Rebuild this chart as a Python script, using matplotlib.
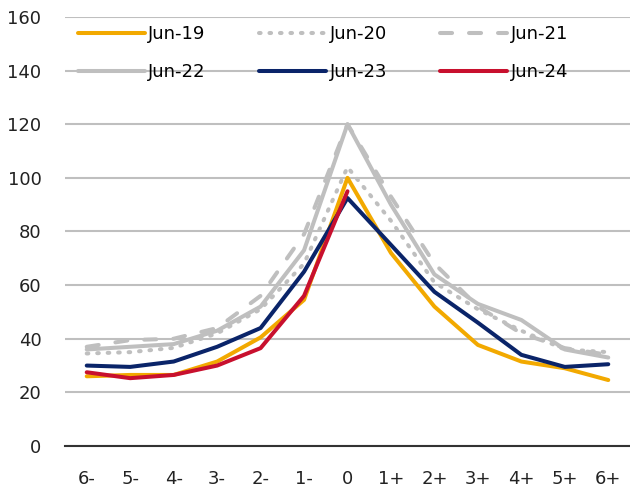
import matplotlib.pyplot as plt
import matplotlib.font_manager as fm

names = {f.name for f in fm.fontManager.ttflist}
font = 'Liberation Sans Narrow' if 'Liberation Sans Narrow' in names else 'DejaVu Sans'
plt.rcParams['font.family'] = [font, 'DejaVu Sans']

months = ['6-', '5-', '4-', '3-', '2-', '1-', '0', '1+', '2+', '3+', '4+', '5+', '6+']

jun19 = [26, 26.5, 26.5, 31.5, 40.5, 54.5, 100, 72, 52, 37.7, 31.5, 29, 24.6]
jun20 = [34.5, 35, 36.6, 42, 51, 68, 104, 84, 61, 51, 43, 36, 35]
jun21 = [37, 39.5, 40, 44, 56, 79, 120, 93, 68, 52, 42, 36.5, 34]
jun22 = [36, 37, 38, 43, 52, 73, 120, 90, 64, 53, 47, 36, 33]
jun23 = [30, 29.5, 31.5, 37, 44, 65, 92.5, 75, 57.5, 46, 34, 29.5, 30.5]
jun24 = [27.5, 25.3, 26.5, 30, 36.5, 56, 95]

gray = '#bfbfbf'
lw = 2.9

fig = plt.figure(figsize=(6.30, 4.88), dpi=100)
ax = fig.add_axes([65 / 630, 42 / 488, 565 / 630, 429 / 488])

x = list(range(len(months)))
h19, = ax.plot(x, jun19, color='#f2a900', lw=lw, label='Jun-19', solid_capstyle='round')
h20, = ax.plot(x, jun20, color=gray, lw=lw, label='Jun-20', linestyle=(0, (0.4, 2.2)),
               dash_capstyle='round')
h21, = ax.plot(x, jun21, color=gray, lw=lw, label='Jun-21', linestyle=(0, (3.0, 4.2)),
               dash_capstyle='round')
h22, = ax.plot(x, jun22, color=gray, lw=lw, label='Jun-22', solid_capstyle='round')
h23, = ax.plot(x, jun23, color='#0a2469', lw=lw, label='Jun-23', solid_capstyle='round')
h24, = ax.plot(x[:len(jun24)], jun24, color='#c8102e', lw=lw, label='Jun-24',
               solid_capstyle='round')

ax.set_xlim(-0.5, len(months) - 0.5)
ax.set_ylim(0, 160)
ax.set_yticks(range(0, 161, 20))
ax.set_xticks(x)
ax.set_xticklabels(months)

ax.grid(axis='y', color=gray, lw=1.5)
ax.set_axisbelow(True)
for s in ['left', 'right', 'top']:
    ax.spines[s].set_visible(False)
ax.spines['bottom'].set_color('#333333')
ax.spines['bottom'].set_linewidth(1.5)
ax.spines['bottom'].set_zorder(1)
ax.tick_params(axis='both', length=0, labelsize=13, colors='#222222')
ax.tick_params(axis='y', pad=17)
ax.tick_params(axis='x', pad=17)

handles = [h19, h22, h20, h23, h21, h24]
ax.legend(handles=handles, labels=[h.get_label() for h in handles], ncol=3,
          loc='upper left', bbox_to_anchor=(0.01, 0.998), frameon=False,
          fontsize=13, handlelength=3.7, handletextpad=0.2, columnspacing=2.95,
          labelspacing=1.12, borderaxespad=0)

fig.savefig('out.png', dpi=100)
